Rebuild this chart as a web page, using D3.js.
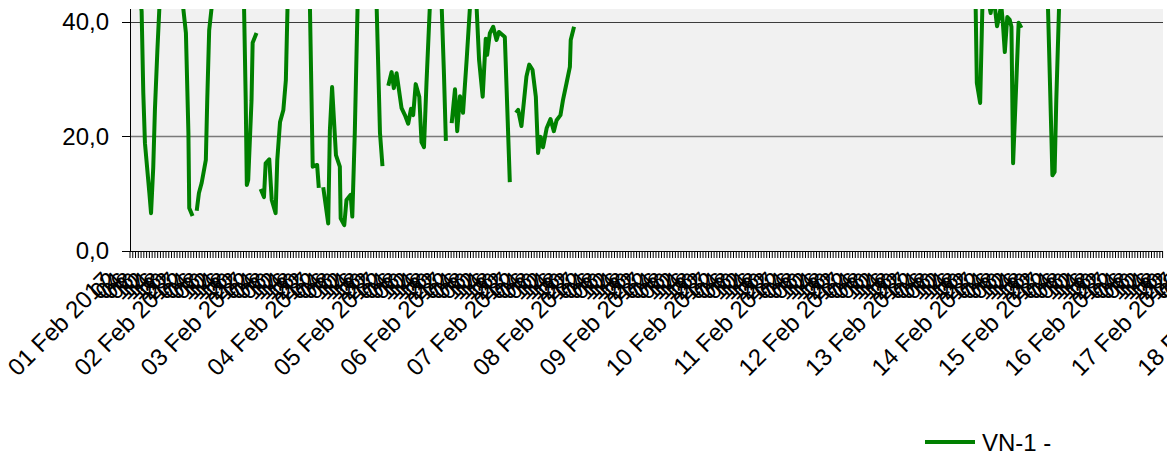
<!DOCTYPE html>
<html>
<head>
<meta charset="utf-8">
<script src="https://cdn.jsdelivr.net/npm/d3@7"></script>
<style>
    body { margin: 0; background: #fff; }
    svg text { font-family: "Liberation Sans", Arial, sans-serif; fill: #000; }
</style>
</head>
<body>
<div id="chart"></div>
<script>
// time span of the x axis
const startDate = new Date(2017, 1, 1);
const endDate = new Date(2017, 1, 18);
const seriesName = 'VN-1 -';
const yTicks = [0, 20, 40];

// hours since 01 Feb 2017 00:00 and readings (null = no data)
const hourOffsets = [
    0, 4.2, 4.8, 5.4, 7.0, 7.6, 8.4, 9.0, 9.9, 10.6, 14.8, 19.2, 20.2, 21.1, 21.4, 22.6, 23.3,
    24.1, 24.9, 25.9, 27.4, 27.9, 28.6, 29.5, 35.4, 41.2, 41.8, 42.2, 42.7, 43.9, 44.3, 45.7, 46.4,
    47.2, 48.4, 49.0, 50.3, 51.2, 52.6, 53.2, 54.2, 55.4, 56.3, 56.9, 61.0, 65.0, 66.0, 67.6, 68.2, 69.0,
    69.8, 71.6, 72.2, 73.0, 74.4, 75.8, 76.1, 77.4, 78.2, 79.7, 80.3, 81.2, 82.2, 85.6, 89.1, 90.3, 91.2, 92.2,
    93.3, 94.5, 95.3, 96.3, 98.1, 99.3, 100.5, 101.5, 102.3, 103.2, 104.5, 105.3, 106.2, 107.1, 108.3, 110.5, 112.6, 113.4, 114.1, 115.1,
    116.2, 117.4, 118.2, 119.2, 120.3, 121.6, 122.8, 123.9, 125.2, 126.1, 127.4, 128.5, 129.0, 130.0, 131.2, 132.4, 133.3, 135.4, 137.2, 138.3,
    139.4, 140.2, 141.4, 143.2, 144.2, 145.4, 146.6, 147.4, 148.3, 149.2, 150.5, 151.9, 153.1, 154.1, 155.5, 156.4, 157.7, 158.9, 159.2, 160.4, 161.0,
    305.3, 305.9, 307.1, 307.9, 309.1, 310.5, 310.9, 311.6, 312.3, 313.2, 314.1, 314.7, 315.3, 316.0, 316.9, 317.8, 318.4, 319.0, 319.9, 321.0, 322.0, 325.0,
    330.7, 331.6, 332.8, 333.2, 334.0, 334.6, 335.6, 336.5
];
const vn1Values = [
    60, 41.8, 27.6, 18.8, 10.1, 6.6, 14.6, 24.6, 35.1, 42.3, 58, 42.5, 38.0, 20.6, 7.5, 6.1, null,
    7.0, 10.1, 11.9, 15.9, 26.3, 38.5, 42.5, 60, 42.5, 26.3, 11.5, 12.4, 26.3, 36.3, 38.0, null,
    10.8, 9.4, 15.3, 16.0, 8.9, 6.6, 15.9, 22.5, 24.6, 29.8, 42.5, 58, 42.5, 14.7, 15.0, 11.0, null,
    11.1, 4.8, 21.0, 28.6, 16.7, 14.7, 5.7, 4.5, 8.9, 9.8, 6.0, 20.6, 42.5, 58, 42.5, 20.6, 14.8, null,
    28.8, 31.2, 28.4, 31.0, 24.9, 23.7, 22.2, 24.8, 23.7, 29.1, 26.9, 19.0, 18.1, 29.3, 42.5, 55, 42.5, 31.0, 19.2, null,
    22.3, 28.2, 20.9, 27.0, 24.1, 33.3, 42.5, 46, 42.5, 33.3, 26.9, 37.0, 34.2, 38.0, 39.1, 36.8, 38.2, 37.3, 12.0, null,
    24.1, 24.6, 21.8, 30.4, 32.5, 31.6, 26.9, 17.1, 19.9, 18.1, 21.4, 23.0, 20.9, 22.8, 23.7, 26.3, 29.3, 32.1, 36.8, 39.1, null,
    48, 29.3, 25.8, 42.5, 48, 42.5, 41.5, 44, 43, 39.2, 41.2, 43, 39.8, 34.7, 40.8, 40.3, 39.1, 15.3, 26.3, 39.8, 38.9, null,
    50, 42.5, 20.6, 13.2, 13.8, 26.3, 42.5, 50
];

const width = 1167, height = 457;
const plot = { left: 130, top: 9, right: 1163, bottom: 251 };
const dayWidth = 66.44;

const data = hourOffsets.map((h, i) => ({
    date: new Date(startDate.getTime() + h * 3600000),
    value: vn1Values[i]
}));

const svg = d3.select('#chart')
    .append('svg')
    .attr('width', width)
    .attr('height', height);

const x = d3.scaleTime()
    .domain([startDate, endDate])
    .range([plot.left, plot.left + 17 * dayWidth]);

const y = d3.scaleLinear()
    .domain([0, 42.2])
    .range([plot.bottom, plot.top]);

// plot background
svg.append('rect')
    .attr('x', plot.left)
    .attr('y', plot.top)
    .attr('width', plot.right - plot.left)
    .attr('height', plot.bottom - plot.top)
    .attr('fill', '#f1f1f1');

// grid lines
svg.append('g')
    .selectAll('line')
    .data(yTicks.filter(d => d > 0))
    .join('line')
    .attr('x1', plot.left)
    .attr('x2', plot.right)
    .attr('y1', d => Math.round(y(d)) + 0.5)
    .attr('y2', d => Math.round(y(d)) + 0.5)
    .attr('stroke', d => d === 40 ? '#3c3c3c' : '#7a7a7a')
    .attr('stroke-width', d => d === 40 ? 1 : 1.6);

// series line, clipped to the plot area
svg.append('clipPath')
    .attr('id', 'plotClip')
    .append('rect')
    .attr('x', plot.left)
    .attr('y', plot.top)
    .attr('width', plot.right - plot.left)
    .attr('height', plot.bottom - plot.top);

const line = d3.line()
    .defined(d => d.value !== null)
    .x(d => x(d.date))
    .y(d => y(d.value));

svg.append('path')
    .datum(data)
    .attr('clip-path', 'url(#plotClip)')
    .attr('fill', 'none')
    .attr('stroke', '#008000')
    .attr('stroke-width', 4)
    .attr('stroke-linejoin', 'round')
    .attr('d', line);

// y axis
const yAxis = svg.append('g');
yAxis.append('line')
    .attr('x1', plot.left + 0.5).attr('x2', plot.left + 0.5)
    .attr('y1', plot.top).attr('y2', plot.bottom)
    .attr('stroke', '#000');
yAxis.selectAll('line.tick')
    .data(yTicks)
    .join('line')
    .attr('class', 'tick')
    .attr('x1', plot.left - 8).attr('x2', plot.left)
    .attr('y1', d => Math.round(y(d)) + 0.5)
    .attr('y2', d => Math.round(y(d)) + 0.5)
    .attr('stroke', '#000');
yAxis.selectAll('text')
    .data(yTicks)
    .join('text')
    .attr('x', 109)
    .attr('y', d => y(d))
    .attr('dy', '0.35em')
    .attr('text-anchor', 'end')
    .attr('font-size', '24px')
    .text(d => d3.format('.1f')(d).replace('.', ','));

// x axis: hourly ticks
const hours = d3.timeHour.range(startDate, d3.timeHour.offset(endDate, 1));
const xAxis = svg.append('g');
xAxis.append('line')
    .attr('x1', plot.left).attr('x2', plot.right)
    .attr('y1', plot.bottom + 0.5).attr('y2', plot.bottom + 0.5)
    .attr('stroke', '#000');
xAxis.selectAll('line.tick')
    .data(hours.filter(d => x(d) <= plot.right))
    .join('line')
    .attr('class', 'tick')
    .attr('x1', d => x(d)).attr('x2', d => x(d))
    .attr('y1', plot.bottom).attr('y2', plot.bottom + 7)
    .attr('stroke', '#000');

// labels: full date at midnight, hour every 2 hours (they overlap, as in the source)
const dayFormat = d3.timeFormat('%d %b %Y');
const hourFormat = d3.timeFormat('%H');
xAxis.selectAll('text')
    .data(hours.filter(d => d.getHours() % 2 === 0))
    .join('text')
    .attr('text-anchor', 'end')
    .attr('font-size', '24px')
    .attr('transform', d => `translate(${x(d) - 17},282) rotate(-45)`)
    .text(d => d.getHours() === 0 ? dayFormat(d) : hourFormat(d));

// legend
const legend = svg.append('g');
legend.append('line')
    .attr('x1', 925).attr('x2', 975)
    .attr('y1', 442).attr('y2', 442)
    .attr('stroke', '#008000')
    .attr('stroke-width', 4);
legend.append('text')
    .attr('x', 982)
    .attr('y', 451)
    .attr('font-size', '24px')
    .text(seriesName);
</script>
</body>
</html>
